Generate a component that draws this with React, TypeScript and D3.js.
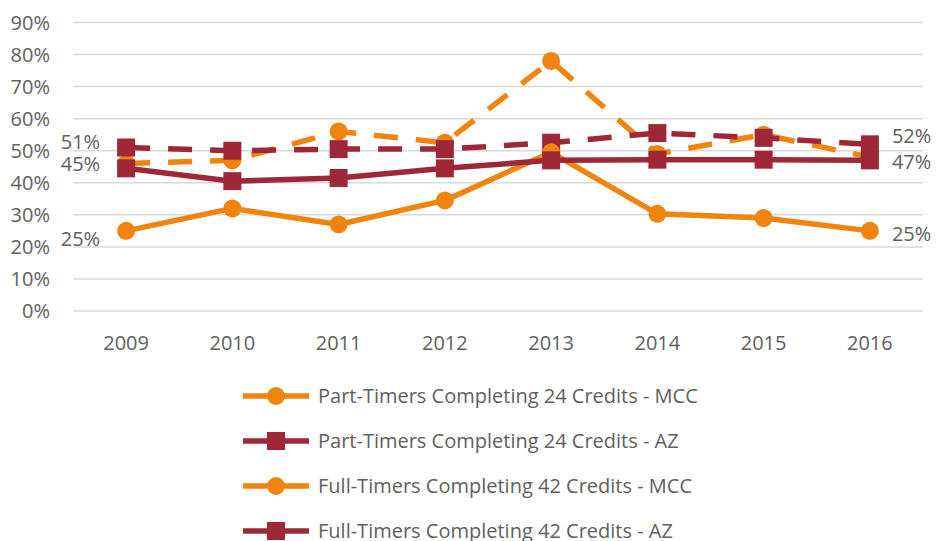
import React from "react";
import * as d3 from "d3";

const years = ["2009", "2010", "2011", "2012", "2013", "2014", "2015", "2016"];
const partMCC = [0.46, 0.47, 0.56, 0.525, 0.78, 0.49, 0.55, 0.48];
const partAZ = [0.51, 0.50, 0.505, 0.505, 0.525, 0.555, 0.54, 0.52];
const fullMCC = [0.25, 0.32, 0.27, 0.345, 0.495, 0.303, 0.29, 0.25];
const fullAZ = [0.445, 0.405, 0.415, 0.445, 0.47, 0.472, 0.472, 0.47];
const yTicks = [0, 0.1, 0.2, 0.3, 0.4, 0.5, 0.6, 0.7, 0.8, 0.9];
const seriesNames = [
  "Part-Timers Completing 24 Credits - MCC",
  "Part-Timers Completing 24 Credits - AZ",
  "Full-Timers Completing 42 Credits - MCC",
  "Full-Timers Completing 42 Credits - AZ",
];

const ORANGE = "#F0840E";
const MAROON = "#9E2838";
const TEXT = "#606060";
const FONT = "'Open Sans', sans-serif";
const FS = 20;

export default function App() {
  const W = 938, H = 541;
  const x = d3.scaleBand<string>().domain(years).range([73, 923]).padding(0);
  const cx = (y: string) => (x(y) as number) + x.bandwidth() / 2;
  const y = d3.scaleLinear().domain([0, 0.9]).range([311, 22.5]);

  const series = [
    { name: seriesNames[0], data: partMCC, color: ORANGE, dash: "24,18", marker: "circle" },
    { name: seriesNames[1], data: partAZ, color: MAROON, dash: "24,18", marker: "square" },
    { name: seriesNames[2], data: fullMCC, color: ORANGE, dash: "none", marker: "circle" },
    { name: seriesNames[3], data: fullAZ, color: MAROON, dash: "none", marker: "square" },
  ];

  const line = d3
    .line<number>()
    .x((_, i) => cx(years[i]))
    .y((d) => y(d));

  const fmt = d3.format(".0%");

  // data labels: [series index, point index, side, dy]
  const labels: [number, number, "left" | "right", number][] = [
    [1, 0, "left", -6],
    [3, 0, "left", -4],
    [2, 0, "left", 8],
    [1, 7, "right", -8],
    [3, 7, "right", 2],
    [2, 7, "right", 3],
  ];

  const marker = (s: any, i: number, d: number, k: string) => {
    const px = cx(years[i]);
    const py = y(d);
    if (s.marker === "circle")
      return <circle key={k} cx={px} cy={py} r={9} fill={s.color} />;
    return <rect key={k} x={px - 9} y={py - 9} width={18} height={18} fill={s.color} />;
  };

  return (
    <svg width={W} height={H} style={{ display: "block", position: "absolute", left: 0, top: 0 }} fontFamily={FONT}>
      <rect width={W} height={H} fill="#fff" />
      {yTicks.map((t) => (
        <g key={t}>
          <line x1={73} x2={923} y1={y(t)} y2={y(t)} stroke="#D9D9D9" strokeWidth={1.5} />
          <text x={50} y={y(t)} dy="0.35em" textAnchor="end" fontSize={FS} fill={TEXT}>
            {fmt(t)}
          </text>
        </g>
      ))}
      {years.map((yr) => (
        <text key={yr} x={cx(yr)} y={343} dy="0.35em" textAnchor="middle" fontSize={FS} fill={TEXT}>
          {yr}
        </text>
      ))}
      {series.map((s, si) => (
        <g key={si}>
          <path d={line(s.data) as string} fill="none" stroke={s.color} strokeWidth={5.5} strokeDasharray={s.dash} strokeLinejoin="round" />
          {s.data.map((d, i) => marker(s, i, d, `${si}-${i}`))}
        </g>
      ))}
      {labels.map(([si, pi, side, dy], k) => {
        const s = series[si];
        const px = cx(years[pi]);
        const py = y(s.data[pi]);
        return (
          <text
            key={k}
            x={side === "left" ? px - 26 : px + 22}
            y={py + dy}
            dy="0.35em"
            textAnchor={side === "left" ? "end" : "start"}
            fontSize={FS}
            fill={TEXT}
          >
            {fmt(s.data[pi])}
          </text>
        );
      })}
      {series.map((s, si) => {
        const ly = 396 + si * 45;
        return (
          <g key={si}>
            <line x1={243} x2={309} y1={ly} y2={ly} stroke={s.color} strokeWidth={5.5} />
            {s.marker === "circle" ? (
              <circle cx={276} cy={ly} r={9} fill={s.color} />
            ) : (
              <rect x={267} y={ly - 9} width={18} height={18} fill={s.color} />
            )}
            <text x={318} y={ly} dy="0.35em" fontSize={FS} fill={TEXT}>
              {s.name}
            </text>
          </g>
        );
      })}
    </svg>
  );
}
